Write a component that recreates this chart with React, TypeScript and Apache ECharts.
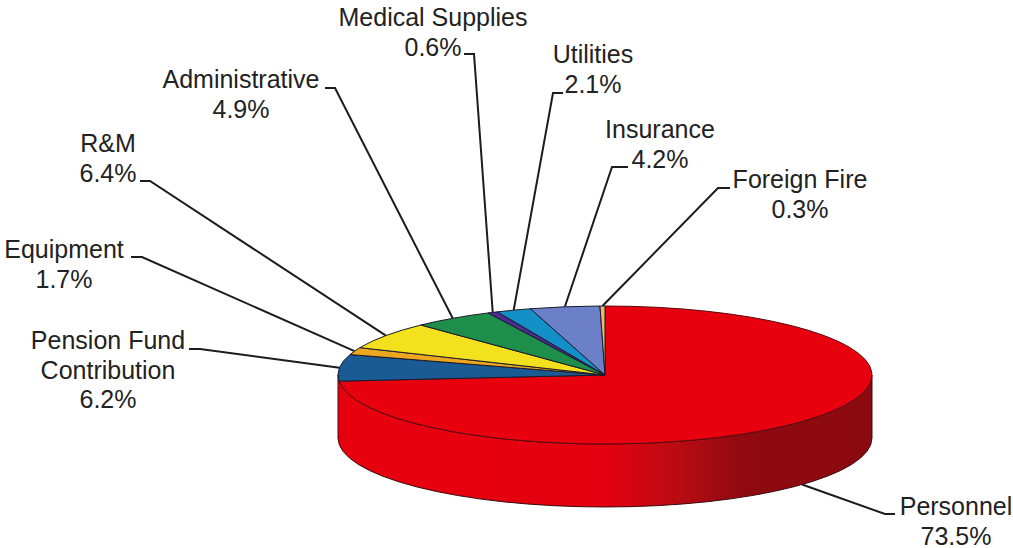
import React, { useEffect, useRef } from "react";
import * as echarts from "echarts";

const names = [
  "Personnel",
  "Pension Fund\nContribution",
  "Equipment",
  "R&M",
  "Administrative",
  "Medical Supplies",
  "Utilities",
  "Insurance",
  "Foreign Fire",
];
const shares = [73.5, 6.2, 1.7, 6.4, 4.9, 0.6, 2.1, 4.2, 0.3];
const sliceColors = [
  "#e8000f",
  "#1a5b96",
  "#eca71f",
  "#f2e11c",
  "#1f8e4b",
  "#4b2c92",
  "#1490c9",
  "#6b80c8",
  "#f0b860",
];

// Page layout of the pie
const CX = 605;
const CY = 375;
const RX = 267;
const RY = 69;
const DEPTH = 63;
const FONT = '25px "Liberation Sans", Arial, sans-serif';
const LINE_H = 29.5;

// Label centre (first line y) and leader elbow / end
const labelCenter: [number, number][] = [
  [956, 506],
  [108, 340],
  [64, 249],
  [108, 143],
  [241, 79],
  [433, 17],
  [593, 54],
  [660, 129],
  [800, 179],
];
const leaderElbow: [number, number][] = [
  [885, 514],
  [200, 349],
  [142, 257],
  [150, 181],
  [335, 88],
  [474, 54],
  [553, 93],
  [612, 167],
  [718, 188],
];
const leaderEnd: [number, number][] = [
  [895, 514],
  [189, 349],
  [131, 257],
  [140, 181],
  [325, 88],
  [464, 54],
  [563, 93],
  [628, 167],
  [730, 188],
];

const total = shares.reduce((a, b) => a + b, 0);
const startAngle: number[] = [];
shares.reduce((acc, v, i) => {
  startAngle[i] = (acc / total) * Math.PI * 2;
  return acc + v;
}, 0);
const endAngle = shares.map((_, i) => (i + 1 < shares.length ? startAngle[i + 1] : Math.PI * 2));

const pt = (a: number, dy = 0): [number, number] => [
  CX + RX * Math.sin(a),
  CY - RY * Math.cos(a) + dy,
];
const fmt = (p: [number, number]) => `${p[0].toFixed(2)} ${p[1].toFixed(2)}`;

function facePath(a0: number, a1: number) {
  const large = a1 - a0 > Math.PI ? 1 : 0;
  return `M${CX} ${CY}L${fmt(pt(a0))}A${RX} ${RY} 0 ${large} 1 ${fmt(pt(a1))}Z`;
}
function wallPath(a0: number, a1: number) {
  return (
    `M${fmt(pt(a0))}A${RX} ${RY} 0 0 1 ${fmt(pt(a1))}` +
    `L${fmt(pt(a1, DEPTH))}A${RX} ${RY} 0 0 0 ${fmt(pt(a0, DEPTH))}Z`
  );
}

function renderItem(params: any) {
  const i = params.dataIndex;
  const children: any[] = [];
  const mid = (startAngle[i] + endAngle[i]) / 2;
  const anchor = i === 0 ? pt(mid, DEPTH) : pt(mid);

  children.push({
    type: "polyline",
    shape: { points: [anchor, leaderElbow[i], leaderEnd[i]] },
    style: { stroke: "#1c1c1c", lineWidth: 2, fill: "none" },
    z2: 1,
  });
  if (i === 0) {
    children.push({
      type: "path",
      shape: { pathData: wallPath(Math.PI / 2, (Math.PI * 3) / 2) },
      style: {
        fill: new echarts.graphic.LinearGradient(0, 0, 1, 0, [
          { offset: 0, color: "#e8000e" },
          { offset: 0.5, color: "#e40010" },
          { offset: 0.64, color: "#b80c12" },
          { offset: 0.75, color: "#900a10" },
          { offset: 1, color: "#8a0a10" },
        ]),
        stroke: "#3a0a10",
        lineWidth: 1,
      },
      z2: 2,
    });
  }
  children.push({
    type: "path",
    shape: { pathData: facePath(startAngle[i], endAngle[i]) },
    style: {
      fill: sliceColors[i],
      stroke: i === 0 ? "#5a0a10" : "#1a1a2e",
      lineWidth: 1,
    },
    z2: i === 0 ? 3 : 4,
  });
  const share = shares[i].toFixed(1) + "%";
  children.push({
    type: "text",
    style: {
      text: names[i] + "\n" + share,
      x: labelCenter[i][0],
      y: labelCenter[i][1] - LINE_H / 2,
      font: FONT,
      fill: "#222222",
      align: "center",
      verticalAlign: "top",
      lineHeight: LINE_H,
    },
    z2: 5,
  });
  return { type: "group", children };
}

export default function App() {
  const ref = useRef<HTMLDivElement>(null);
  useEffect(() => {
    if (!ref.current) return;
    const chart = echarts.init(ref.current, undefined, { renderer: "svg" });
    chart.setOption({
      animation: false,
      backgroundColor: "#ffffff",
      series: [
        {
          type: "custom",
          coordinateSystem: "none",
          silent: true,
          renderItem,
          data: shares.map((v, i) => ({ name: names[i], value: [i, v] })),
        },
      ],
    });
    return () => chart.dispose();
  }, []);
  return (
    <div
      ref={ref}
      style={{ position: "fixed", left: 0, top: 0, width: 1013, height: 548 }}
    />
  );
}
